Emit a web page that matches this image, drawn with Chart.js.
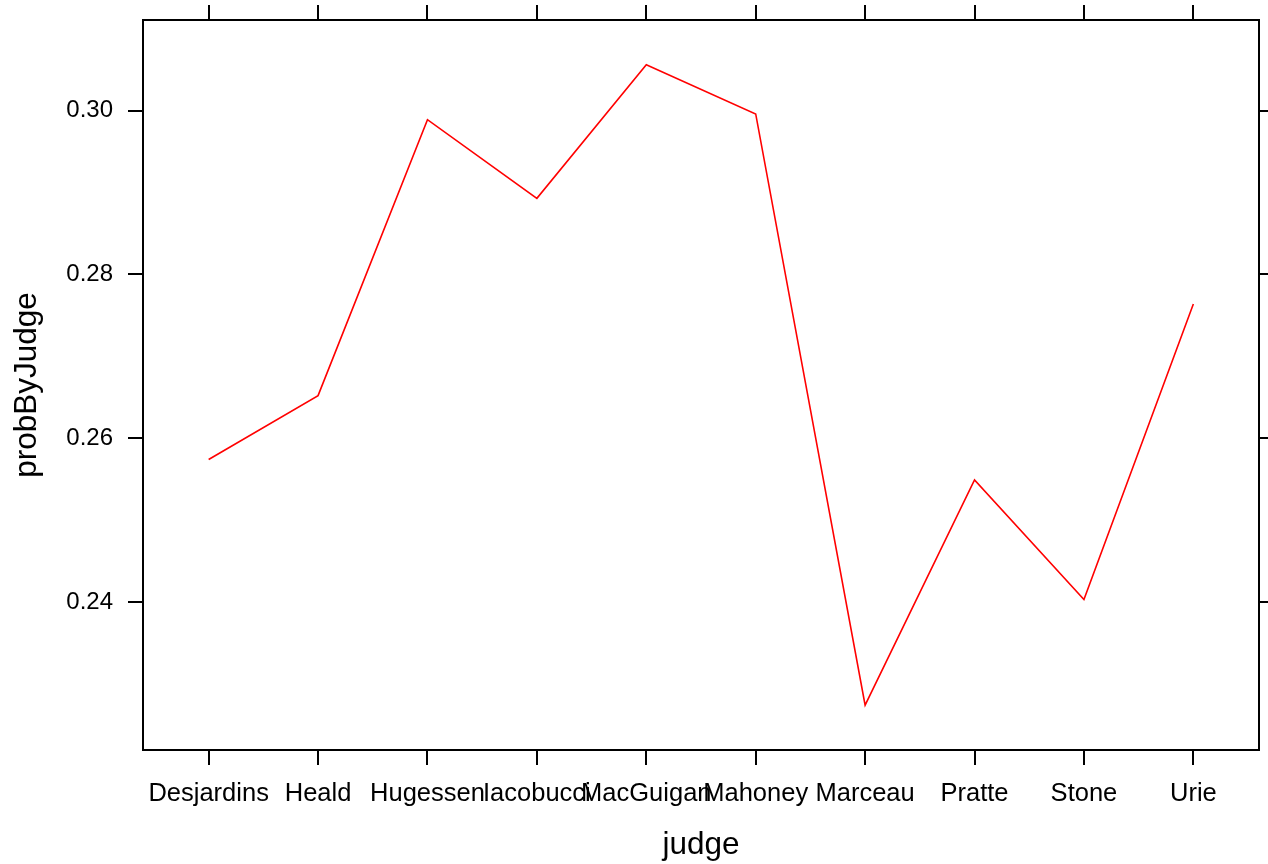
<!DOCTYPE html>
<html>
<head>
<meta charset="utf-8">
<title>probByJudge by judge</title>
<script src="https://cdn.jsdelivr.net/npm/chart.js@4/dist/chart.umd.min.js"></script>
<style>
  html, body { margin: 0; padding: 0; background: #ffffff; }
  #wrap { width: 1268px; height: 864px; }
</style>
</head>
<body>
<div id="wrap"><canvas id="chart" width="1268" height="864"></canvas></div>
<script>
// Judges along the x axis, in order
const judges = ['Desjardins', 'Heald', 'Hugessen', 'Iacobucci', 'MacGuigan',
                'Mahoney', 'Marceau', 'Pratte', 'Stone', 'Urie'];
// Estimated probability for each judge
const probByJudge = [0.2574, 0.2652, 0.2989, 0.2893, 0.3056,
                     0.2996, 0.2274, 0.2549, 0.2403, 0.2764];
// Labelled y ticks
const yTicks = [0.24, 0.26, 0.28, 0.30];

const FONT = '"Liberation Sans", Arial, Helvetica, sans-serif';
const INK = '#000000';

const points = judges.map((name, i) => ({ x: i, y: probByJudge[i] }));

// shared y range with 7% padding around the data, like a trellis panel
const yLo = Math.min(...probByJudge), yHi = Math.max(...probByJudge);
const yPad = (yHi - yLo) * 0.07;
const yMin = yLo - yPad, yMax = yHi + yPad;
const xMin = -0.6, xMax = judges.length - 1 + 0.6;

const catTicks = () => judges.map((_, i) => ({ value: i }));
const valTicks = () => yTicks.map(v => ({ value: v }));

// fixed axis box sizes so the panel sits at the same place every time
function fixX(h) {
  return s => { s.height = h; s.paddingLeft = 0; s.paddingRight = 0; };
}
function fixY(w) {
  return s => { s.width = w; s.paddingTop = 0; s.paddingBottom = 0; };
}

function frameAxis(extra) {
  return Object.assign({
    border: { display: true, color: INK, width: 2 },
    grid: {
      display: true, drawOnChartArea: false, drawTicks: true,
      tickLength: 15, tickColor: INK, tickWidth: 2, color: INK, lineWidth: 2
    }
  }, extra);
}

new Chart(document.getElementById('chart'), {
  type: 'line',
  data: {
    datasets: [{
      data: points,
      borderColor: '#ff0000',
      borderWidth: 1.6,
      pointRadius: 0,
      tension: 0,
      fill: false
    }]
  },
  options: {
    responsive: false,
    animation: false,
    devicePixelRatio: 1,
    layout: { padding: 0 },
    plugins: { legend: { display: false }, tooltip: { enabled: false } },
    scales: {
      x: frameAxis({
        type: 'linear', position: 'bottom', min: xMin, max: xMax,
        afterBuildTicks: s => { s.ticks = catTicks(); },
        afterFit: fixX(114),
        ticks: {
          autoSkip: false, maxRotation: 0, minRotation: 0, padding: 14,
          color: INK, font: { family: FONT, size: 25.5 },
          callback: v => judges[v]
        },
        title: {
          display: true, text: 'judge', color: INK,
          font: { family: FONT, size: 31.5 }, padding: { top: 0, bottom: 0 }
        }
      }),
      xTop: frameAxis({
        type: 'linear', position: 'top', min: xMin, max: xMax,
        afterBuildTicks: s => { s.ticks = catTicks(); },
        afterFit: fixX(20),
        ticks: { display: false }
      }),
      y: frameAxis({
        type: 'linear', position: 'left', min: yMin, max: yMax,
        afterBuildTicks: s => { s.ticks = valTicks(); },
        afterFit: fixY(143),
        ticks: {
          padding: 15, color: INK, font: { family: FONT, size: 24 },
          callback: v => v.toFixed(2)
        },
        title: {
          display: true, text: 'probByJudge', color: INK,
          font: { family: FONT, size: 31.5 }, padding: { top: 8, bottom: 0 }
        }
      }),
      yRight: frameAxis({
        type: 'linear', position: 'right', min: yMin, max: yMax,
        afterBuildTicks: s => { s.ticks = valTicks(); },
        afterFit: fixY(9),
        ticks: { display: false }
      })
    }
  }
});
</script>
</body>
</html>
